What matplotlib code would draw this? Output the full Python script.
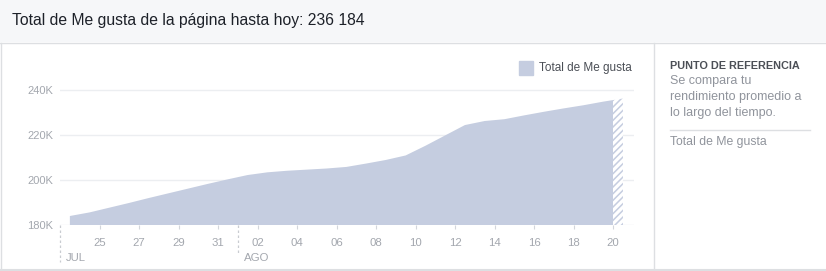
import matplotlib.pyplot as plt
import numpy as np
from matplotlib.lines import Line2D
from matplotlib.patches import Rectangle

plt.rcParams['font.family'] = ['Liberation Sans', 'DejaVu Sans']
plt.rcParams['hatch.linewidth'] = 1.1

# datos: total de "Me gusta" (miles), un valor por día desde el 23 de julio
likes = [184.0, 185.6, 187.7, 189.8, 192.0, 194.1, 196.2, 198.3, 200.3, 202.2,
         203.4, 204.1, 204.6, 205.1, 205.8, 207.3, 208.9, 210.9, 215.2, 219.8,
         224.4, 226.2, 227.0, 228.7, 230.3, 231.8, 233.2, 234.8, 236.2]
tick_days = [2, 4, 6, 8, 10, 12, 14, 16, 18, 20, 22, 24, 26, 28]
tick_labels = ['25', '27', '29', '31', '02', '04', '06', '08', '10', '12',
               '14', '16', '18', '20']
months = ['JUL', 'AGO']
month_start = [0, 9]
y_ticks = [180, 200, 220, 240]
total_text = 'Total de Me gusta de la página hasta hoy: 236 184'

W, H = 826, 271
fill_col = '#c5cde0'
grey = '#a3a7ae'
border = '#dddfe2'


def fx(x):
    return x / W


def fy(y):
    return 1 - y / H


fig = plt.figure(figsize=(W / 100, H / 100), dpi=100)

# cabecera
fig.patches.append(Rectangle((0, fy(42)), 1, 1 - fy(42), transform=fig.transFigure,
                             facecolor='#f6f7f9', edgecolor='none', zorder=0))
fig.add_artist(Line2D([0, 1], [fy(42.5), fy(42.5)], color=border, lw=1))
fig.add_artist(Line2D([fx(654), fx(654)], [fy(43), fy(269)], color=border, lw=1))
fig.add_artist(Line2D([0, 1], [fy(269.5), fy(269.5)], color=border, lw=1.5))
fig.add_artist(Line2D([fx(0.5), fx(0.5)], [fy(43), fy(269)], color=border, lw=1))
fig.text(fx(12), fy(20), total_text, fontsize=11.3, color='#1d2129', va='center')

ax = fig.add_axes([fx(60), fy(225), fx(634) - fx(60), fy(60) - fy(225)])
x = np.arange(len(likes)) + 0.5
last = len(likes) - 1

solid = ax.fill_between(x, 180, likes, facecolor=fill_col, edgecolor='none', lw=0, zorder=2)
solid.set_clip_path(Rectangle((0, 170), last, 100, transform=ax.transData))
hatch = ax.fill_between(x, 180, likes, facecolor='white', edgecolor=fill_col,
                        hatch='/////', lw=0, zorder=2)
hatch.set_clip_path(Rectangle((last, 170), 1, 100, transform=ax.transData))

ax.set_xlim(0, 29.06)
ax.set_ylim(180, 253.3)
ax.set_yticks(y_ticks)
ax.set_yticklabels([f'{v}K' for v in y_ticks])
ax.set_xticks(tick_days)
ax.set_xticklabels(tick_labels)
ax.grid(axis='y', color='#eceef1', lw=1, zorder=1)
for s in ax.spines.values():
    s.set_visible(False)
ax.tick_params(axis='y', length=0, pad=5, labelsize=8, labelcolor=grey)
ax.tick_params(axis='x', length=3, width=0.8, color='#d3d6db', pad=6,
               labelsize=8.2, labelcolor=grey)

tr = ax.get_xaxis_transform()
for name, d, depth in zip(months, month_start, [-0.224, -0.17]):
    ax.plot([d, d], [0, depth], transform=tr, color='#c9ccd1', lw=0.9,
            ls=(0, (2, 2)), clip_on=False)
    ax.text(d + 0.3, -0.2, name, transform=tr, fontsize=8.2, color=grey,
            va='center', ha='left')

# leyenda
fig.add_artist(Line2D([fx(525.5)], [fy(68)], marker='s', markersize=9.4,
                      color=fill_col, lw=0))
fig.text(fx(539), fy(67.5), 'Total de Me gusta', fontsize=8.5, color='#4b4f56', va='center')

# panel derecho
fig.text(fx(670), fy(66), 'PUNTO DE REFERENCIA', fontsize=7.8, fontweight='bold',
         color='#4b4f56', va='center')
for i, line in enumerate(['Se compara tu', 'rendimiento promedio a', 'lo largo del tiempo.']):
    fig.text(fx(670), fy(81 + 16 * i), line, fontsize=9, color='#90949c', va='center')
fig.add_artist(Line2D([fx(670), fx(810)], [fy(129.5), fy(129.5)], color=border, lw=1))
fig.text(fx(670), fy(142), 'Total de Me gusta', fontsize=8.8, color='#90949c', va='center')

fig.savefig('out.png', dpi=100)
